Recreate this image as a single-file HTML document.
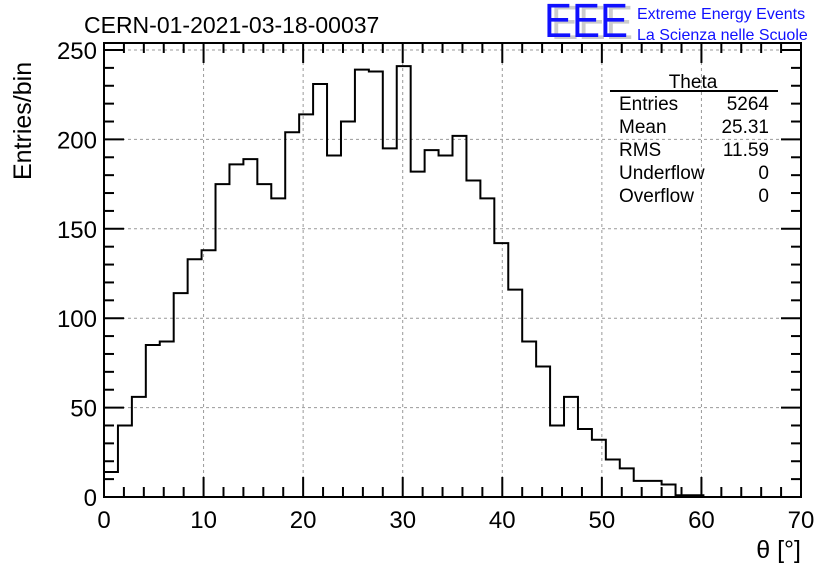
<!DOCTYPE html>
<html><head><meta charset="utf-8"><style>
body{margin:0;background:#fff;}
svg{display:block;font-family:"Liberation Sans",sans-serif;}
</style></head><body>
<svg id="chart" width="836" height="572" viewBox="0 0 836 572">
<rect width="836" height="572" fill="#fff"/>
<text x="84" y="33" font-size="23" fill="#000">CERN-01-2021-03-18-00037</text>
<g>
<text x="551" y="39" font-size="48" fill="#ccc" textLength="82" lengthAdjust="spacingAndGlyphs">EEE</text>
<text x="544" y="37" font-size="48" fill="#1010ff" textLength="84" lengthAdjust="spacingAndGlyphs">EEE</text>
<text x="637" y="19" font-size="16" fill="#1010ff">Extreme Energy Events</text>
<text x="637" y="40" font-size="16" fill="#1010ff">La Scienza nelle Scuole</text>
</g>
<g id="grid"></g>
<g id="ticks"></g>
<g id="labels"></g>
<path id="hist" fill="none" stroke="#000" stroke-width="2"/>
<rect x="104" y="43" width="697" height="454" fill="none" stroke="#000" stroke-width="2"/>
<text transform="translate(31,180) rotate(-90)" font-size="25" fill="#000">Entries/bin</text>
<text x="801" y="558" font-size="25" text-anchor="end" fill="#000">θ [°]</text>
<g font-size="19" fill="#000">
<text x="693" y="88" text-anchor="middle">Theta</text>
<line x1="610" y1="91" x2="778" y2="91" stroke="#000" stroke-width="2"/>
<text x="619" y="110">Entries</text><text x="769" y="110" text-anchor="end">5264</text>
<text x="619" y="133">Mean</text><text x="769" y="133" text-anchor="end">25.31</text>
<text x="619" y="156">RMS</text><text x="769" y="156" text-anchor="end">11.59</text>
<text x="619" y="179">Underflow</text><text x="769" y="179" text-anchor="end">0</text>
<text x="619" y="202">Overflow</text><text x="769" y="202" text-anchor="end">0</text>
</g>
</svg>
<script>
const binWidth = 1.4;
const counts = [14,40,56,85,87,114,133,138,175,186,189,175,167,204,214,231,191,210,239,238,195,241,182,194,191,202,177,167,142,116,87,73,40,56,38,32,21,16,9,9,7,1,1];
const xTicks = [0,10,20,30,40,50,60,70];
const yTicks = [0,50,100,150,200,250];
const X0=104,X1=801,Y0=497,Y1=43;
const xs = v => X0 + v*(X1-X0)/70;
const ys = v => Y0 - v*(Y0-50)/250;
const NS="http://www.w3.org/2000/svg";
function mk(t,a,p){const e=document.createElementNS(NS,t);for(const k in a)e.setAttribute(k,a[k]);p.appendChild(e);return e;}
const grid=document.getElementById('grid'),ticks=document.getElementById('ticks'),labels=document.getElementById('labels');
xTicks.forEach(v=>{
  if(v>0&&v<70){const g=mk('line',{x1:xs(v),x2:xs(v),y1:Y0,y2:Y1,stroke:'#999','stroke-dasharray':'3,3','stroke-width':1},grid);
  
  }
  const t=mk('text',{x:xs(v),y:528,'font-size':24,'text-anchor':'middle'},labels);t.textContent=v;
  
  
});
yTicks.forEach(v=>{
  if(v>0){const g=mk('line',{x1:X0,x2:X1,y1:ys(v),y2:ys(v),stroke:'#999','stroke-dasharray':'3,3','stroke-width':1},grid);
  
  }
  const t=mk('text',{x:97,y:ys(v)+9,'font-size':24,'text-anchor':'end'},labels);t.textContent=v;
  
  
});
for(let v=0;v<=70;v+=2){const L=(v%10===0)?20:10;
  mk('line',{x1:xs(v),x2:xs(v),y1:Y0,y2:Y0-L,stroke:'#000','stroke-width':2},ticks);
  mk('line',{x1:xs(v),x2:xs(v),y1:Y1,y2:Y1+L,stroke:'#000','stroke-width':2},ticks);}
for(let v=0;v<=250;v+=10){const L=(v%50===0)?20:10;
  mk('line',{x1:X0,x2:X0+L,y1:ys(v),y2:ys(v),stroke:'#000','stroke-width':2},ticks);
  mk('line',{x1:X1,x2:X1-L,y1:ys(v),y2:ys(v),stroke:'#000','stroke-width':2},ticks);}
let d='M'+xs(0)+','+ys(0);
counts.forEach((c,i)=>{d+=' L'+xs(i*binWidth)+','+ys(c)+' L'+xs((i+1)*binWidth)+','+ys(c);});
d+=' L'+xs(counts.length*binWidth)+','+ys(0);
document.getElementById('hist').setAttribute('d',d);
</script>
</body></html>
